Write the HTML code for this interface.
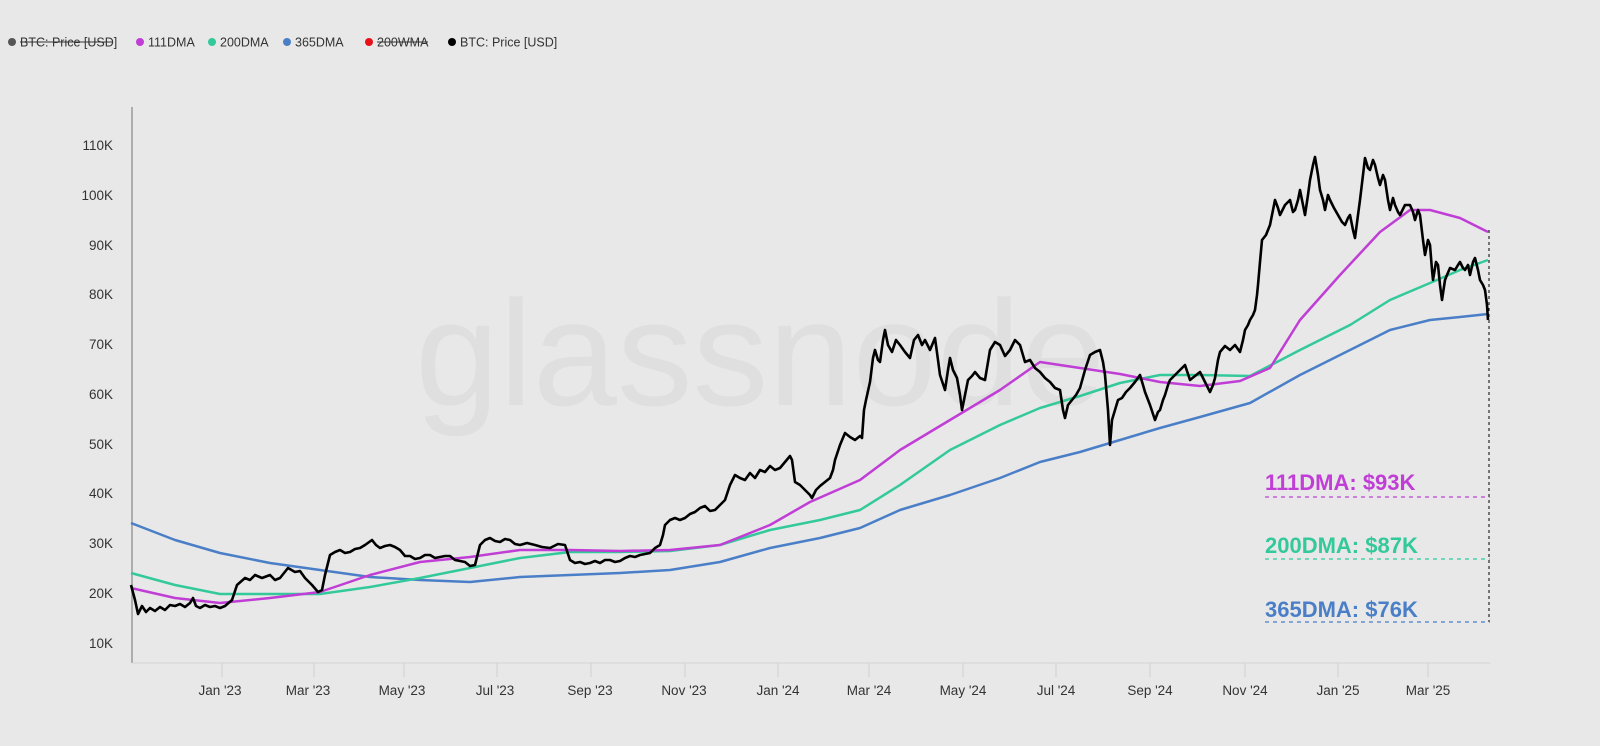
<!DOCTYPE html>
<html><head><meta charset="utf-8"><style>
html,body{margin:0;padding:0;background:#e8e8e8;}
svg{display:block;font-family:"Liberation Sans",Arial,sans-serif;}
</style></head><body>
<svg width="1600" height="746" viewBox="0 0 1600 746" xmlns="http://www.w3.org/2000/svg">
<rect width="1600" height="746" fill="#e8e8e8"/>
<g font-size="12.5" fill="#333">
<circle cx="12" cy="42" r="4" fill="#555"/><text x="20" y="46.5">BTC: Price [USD]</text><line x1="20" y1="42" x2="113" y2="42" stroke="#333" stroke-width="1"/>
<circle cx="140" cy="42" r="4" fill="#c03ed6"/><text x="148" y="46.5">111DMA</text>
<circle cx="212" cy="42" r="4" fill="#33c99a"/><text x="220" y="46.5">200DMA</text>
<circle cx="287" cy="42" r="4" fill="#4a7fc8"/><text x="295" y="46.5">365DMA</text>
<circle cx="369" cy="42" r="4" fill="#e8101a"/><text x="377" y="46.5">200WMA</text><line x1="377" y1="42" x2="428" y2="42" stroke="#333" stroke-width="1"/>
<circle cx="452" cy="42" r="4" fill="#000"/><text x="460" y="46.5">BTC: Price [USD]</text>
</g>
<text x="760" y="405" font-size="150" fill="#dfdfdf" text-anchor="middle" textLength="690" lengthAdjust="spacingAndGlyphs">glassnode</text>
<line x1="132" y1="107" x2="132" y2="663" stroke="#999" stroke-width="1.5"/>
<line x1="132" y1="663" x2="1490" y2="663" stroke="#d4d4d4" stroke-width="1"/>
<g font-size="13.5" fill="#333" text-anchor="end">
<text x="113" y="150">110K</text><text x="113" y="200">100K</text><text x="113" y="250">90K</text><text x="113" y="299">80K</text><text x="113" y="349">70K</text><text x="113" y="399">60K</text><text x="113" y="449">50K</text><text x="113" y="498">40K</text><text x="113" y="548">30K</text><text x="113" y="598">20K</text><text x="113" y="648">10K</text>
</g>
<g stroke="#d0d0d0" stroke-width="1">
<line x1="222" y1="663" x2="222" y2="677"/><line x1="314" y1="663" x2="314" y2="677"/><line x1="404" y1="663" x2="404" y2="677"/><line x1="497" y1="663" x2="497" y2="677"/><line x1="591" y1="663" x2="591" y2="677"/><line x1="685" y1="663" x2="685" y2="677"/><line x1="778" y1="663" x2="778" y2="677"/><line x1="869" y1="663" x2="869" y2="677"/><line x1="963" y1="663" x2="963" y2="677"/><line x1="1056" y1="663" x2="1056" y2="677"/><line x1="1150" y1="663" x2="1150" y2="677"/><line x1="1245" y1="663" x2="1245" y2="677"/><line x1="1338" y1="663" x2="1338" y2="677"/><line x1="1428" y1="663" x2="1428" y2="677"/>
</g>
<g font-size="13.5" fill="#333" text-anchor="middle">
<text x="220" y="695">Jan '23</text><text x="308" y="695">Mar '23</text><text x="402" y="695">May '23</text><text x="495" y="695">Jul '23</text><text x="590" y="695">Sep '23</text><text x="684" y="695">Nov '23</text><text x="778" y="695">Jan '24</text><text x="869" y="695">Mar '24</text><text x="963" y="695">May '24</text><text x="1056" y="695">Jul '24</text><text x="1150" y="695">Sep '24</text><text x="1245" y="695">Nov '24</text><text x="1338" y="695">Jan '25</text><text x="1428" y="695">Mar '25</text>
</g>
<polyline fill="none" stroke="#4a7fc8" stroke-width="2.5" stroke-linejoin="round" points="131,523 175,540 220,553 270,563 320,570 370,577 420,580 470,582 520,577 570,575 620,573 670,570 720,562 770,548 820,538 860,528 900,510 950,495 1000,478 1040,462 1080,452 1120,440 1160,428 1200,417 1250,403 1300,375 1350,350 1390,330 1430,320 1460,317 1488,314"/>
<polyline fill="none" stroke="#33c99a" stroke-width="2.5" stroke-linejoin="round" points="131,573 175,585 220,594 270,594 320,594 370,587 420,578 470,568 520,558 570,552 620,552 670,551 720,545 770,530 820,520 860,510 900,485 950,450 1000,425 1040,408 1080,396 1120,383 1160,375 1200,375 1250,376 1300,350 1350,325 1390,300 1430,283 1460,270 1488,260"/>
<polyline fill="none" stroke="#c03ed6" stroke-width="2.5" stroke-linejoin="round" points="131,588 175,598 220,603 270,598 320,592 370,575 420,562 470,557 520,550 570,550 620,551 670,550 720,545 770,525 810,502 860,480 900,450 950,420 1000,390 1040,362 1080,368 1120,374 1160,382 1200,386 1240,381 1270,368 1300,320 1340,275 1380,232 1410,210 1430,210 1460,218 1488,232"/>
<polyline fill="none" stroke="#000" stroke-width="2.6" stroke-linejoin="round" points="131,585 135,600 138,614 142,606 146,612 150,608 155,611 160,607 165,610 170,605 175,606 180,604 185,607 190,603 193,598 196,606 200,608 205,605 210,607 215,606 220,608 225,606 232,600 237,585 245,578 250,580 255,575 262,578 270,575 275,580 280,578 288,568 295,572 300,571 305,578 312,585 318,592 322,590 325,575 330,555 335,552 340,550 345,553 350,552 355,549 360,548 365,545 372,540 376,545 380,548 385,546 390,545 395,547 400,550 405,556 410,556 415,559 420,558 425,555 430,555 435,558 440,557 445,556 450,556 455,560 465,562 470,566 475,565 480,545 485,540 490,538 495,541 500,542 505,539 510,540 515,544 520,545 527,543 535,545 542,547 550,548 558,544 565,545 570,560 575,563 580,562 585,564 590,563 595,561 600,563 605,560 610,560 615,562 620,561 625,558 630,556 635,557 640,555 645,554 650,553 655,548 660,545 663,535 665,525 670,520 675,518 680,520 685,518 690,514 695,512 700,508 705,506 710,511 715,510 720,505 725,500 730,485 735,475 740,478 745,480 750,473 755,478 760,470 765,472 770,466 775,470 780,468 785,462 790,456 792,460 795,482 800,485 805,490 810,495 812,498 816,490 820,486 825,482 830,478 833,470 835,460 840,445 845,433 850,437 855,440 860,436 862,438 864,410 866,400 870,382 873,358 875,350 878,360 880,362 883,340 885,330 888,345 892,352 896,340 900,345 905,352 910,358 914,340 918,335 922,345 925,340 930,350 935,338 938,360 940,375 945,390 948,370 950,358 953,370 957,378 960,395 962,410 965,395 968,380 972,376 975,372 980,378 985,380 988,362 990,350 995,342 1000,345 1005,356 1010,350 1015,340 1020,345 1025,362 1030,360 1035,368 1040,372 1045,378 1050,382 1055,388 1060,390 1063,410 1065,418 1068,405 1072,400 1076,395 1080,388 1085,370 1090,355 1095,352 1100,350 1103,362 1105,375 1108,410 1110,445 1112,420 1115,410 1118,400 1122,398 1126,392 1130,388 1135,382 1140,375 1143,385 1145,392 1150,405 1155,420 1158,412 1160,410 1163,400 1165,395 1168,385 1170,380 1174,376 1178,372 1182,368 1185,365 1188,374 1190,380 1195,376 1200,372 1205,382 1210,392 1213,385 1215,378 1218,360 1220,352 1225,346 1230,350 1235,345 1240,352 1243,340 1245,330 1248,325 1250,320 1253,315 1255,310 1257,295 1258,285 1260,262 1262,240 1266,235 1270,225 1273,210 1275,200 1278,208 1280,215 1285,205 1290,200 1293,212 1295,210 1298,200 1300,190 1303,205 1305,215 1308,195 1310,180 1313,165 1315,157 1318,175 1320,190 1323,200 1325,210 1328,195 1330,200 1334,208 1338,215 1342,222 1345,225 1348,218 1350,215 1353,230 1355,238 1358,215 1360,200 1363,175 1365,158 1368,168 1370,170 1373,160 1375,165 1378,178 1380,185 1383,175 1385,180 1388,200 1390,210 1393,198 1395,205 1398,212 1400,215 1405,205 1410,205 1413,212 1415,220 1418,210 1420,215 1423,240 1425,255 1428,240 1430,245 1432,270 1433,280 1436,262 1438,265 1440,285 1442,300 1445,280 1447,275 1450,268 1455,270 1458,265 1460,262 1463,268 1465,270 1468,265 1470,275 1473,262 1475,258 1478,270 1480,280 1483,285 1485,290 1487,305 1488,320"/>
<line x1="1489" y1="230" x2="1489" y2="622" stroke="#000" stroke-width="1" stroke-dasharray="3,3"/>
<g font-size="22" font-weight="bold">
<text x="1265" y="490" fill="#c03ed6">111DMA: $93K</text>
<text x="1265" y="553" fill="#33c99a">200DMA: $87K</text>
<text x="1265" y="617" fill="#4a7fc8">365DMA: $76K</text>
</g>
<line x1="1265" y1="497" x2="1490" y2="497" stroke="#c03ed6" stroke-width="1.2" stroke-dasharray="4,4"/>
<line x1="1265" y1="559" x2="1490" y2="559" stroke="#33c99a" stroke-width="1.2" stroke-dasharray="4,4"/>
<line x1="1265" y1="622" x2="1490" y2="622" stroke="#4a7fc8" stroke-width="1.2" stroke-dasharray="4,4"/>
</svg>
</body></html>
